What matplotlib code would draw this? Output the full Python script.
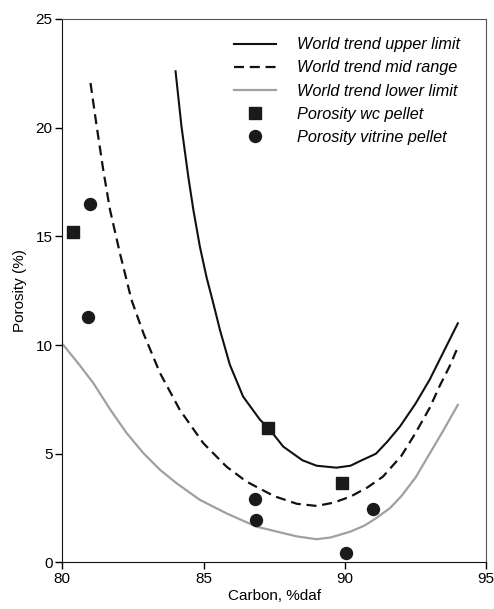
import numpy as np
import matplotlib.pyplot as plt

plt.rcParams['font.family'] = ['Liberation Sans', 'DejaVu Sans']
plt.rcParams['font.size'] = 11

# world trend curves (carbon %daf vs porosity %)
upper_x = [84.01, 84.22, 84.46, 84.64, 84.87, 85.11, 85.34, 85.58, 85.93, 86.4,
           87.0, 87.29, 87.82, 88.5, 89.0, 89.7, 90.2, 90.6, 91.1, 91.5,
           91.95, 92.5, 93.0, 93.5, 94.0]
upper_y = [22.59, 20.05, 17.75, 16.22, 14.53, 13.1, 11.95, 10.7, 9.1, 7.63,
           6.56, 6.2, 5.33, 4.7, 4.45, 4.36, 4.45, 4.7, 5.0, 5.55,
           6.25, 7.3, 8.4, 9.7, 11.0]

mid_x = [81.0, 81.22, 81.45, 81.69, 82.04, 82.45, 82.87, 83.46, 84.16, 84.99,
         85.81, 86.52, 87.5, 88.3, 89.0, 89.6, 90.2, 90.8, 91.35, 92.0,
         92.5, 93.0, 93.35, 93.7, 94.0]
mid_y = [22.05, 20.05, 18.06, 16.22, 14.23, 12.08, 10.55, 8.71, 7.02, 5.49,
         4.41, 3.72, 3.05, 2.7, 2.6, 2.75, 3.03, 3.45, 3.95, 4.9,
         5.95, 7.1, 8.1, 9.0, 9.9]

lower_x = [80.04, 80.6, 81.1, 81.69, 82.28, 82.87, 83.46, 84.05, 84.87, 85.81,
           86.87, 87.5, 88.3, 89.0, 89.5, 90.2, 90.7, 91.1, 91.6, 92.0,
           92.5, 93.0, 93.5, 94.0]
lower_y = [10.0, 9.1, 8.25, 7.05, 5.95, 5.03, 4.26, 3.64, 2.88, 2.26,
           1.65, 1.45, 1.2, 1.07, 1.15, 1.42, 1.7, 2.03, 2.5, 3.05,
           3.9, 5.0, 6.1, 7.25]

# measured porosities
wc_x = [80.37, 87.29, 89.9]
wc_y = [15.2, 6.18, 3.64]
vit_x = [80.98, 80.92, 86.82, 86.84, 91.0, 90.04]
vit_y = [16.5, 11.3, 2.92, 1.96, 2.45, 0.45]

fig = plt.figure(figsize=(4.94, 6.09), dpi=100)
ax = fig.add_axes([0.126, 0.0764, 0.858, 0.8926])

ax.plot(upper_x, upper_y, color='#111111', lw=1.5, label='World trend upper limit')
ax.plot(mid_x, mid_y, color='#111111', lw=1.6, dashes=(4.5, 2.6),
        label='World trend mid range')
ax.plot(lower_x, lower_y, color='#a0a0a0', lw=1.6, label='World trend lower limit')
ax.plot(wc_x, wc_y, 's', color='#1a1a1a', ms=9.2, ls='none',
        label='Porosity wc pellet')
ax.plot(vit_x, vit_y, 'o', color='#1a1a1a', ms=8.6, ls='none',
        label='Porosity vitrine pellet')

ax.set_xlim(80, 95)
ax.set_ylim(0, 25)
ax.set_xticks([80, 85, 90, 95])
ax.set_yticks([0, 5, 10, 15, 20, 25])
ax.set_xlabel('Carbon, %daf', labelpad=2)
ax.set_ylabel('Porosity (%)', labelpad=6)
ax.tick_params(direction='out', length=5, width=1, top=False, right=False, pad=2)

for s in ['left', 'bottom']:
    ax.spines[s].set_color('#111111')
for s in ['top', 'right']:
    ax.spines[s].set_color('#555555')

leg = ax.legend(loc='upper right', bbox_to_anchor=(0.974, 0.993), frameon=False,
                handlelength=2.6, handletextpad=1.3, labelspacing=0.5,
                prop={'style': 'italic', 'size': 11.7})

fig.savefig('out.png', dpi=100)
